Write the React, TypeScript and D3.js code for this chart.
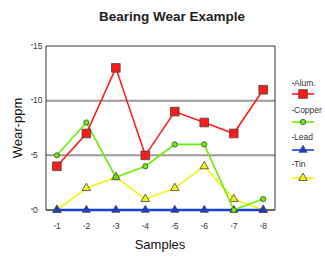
import { useRef, useEffect } from 'react'
import * as d3 from 'd3'

const samples = [1, 2, 3, 4, 5, 6, 7, 8]
const alum = [4, 7, 13, 5, 9, 8, 7, 11]
const copper = [5, 8, 3, 4, 6, 6, 0, 1]
const lead = [0, 0, 0, 0, 0, 0, 0, 0]
const tin = [0, 2, 3, 1, 2, 4, 1, 0]
const yTicks = [0, 5, 10, 15]
const seriesNames = ['Alum.', 'Copper', 'Lead', 'Tin']

const width = 325
const height = 258
const margin = { top: 46, right: 50, bottom: 48, left: 46 }

const App = () => {
  const elRef = useRef<SVGSVGElement>(null)

  useEffect(() => {
    const svg = d3.select(elRef.current as SVGSVGElement)
    svg.selectAll('*').remove()

    const x = d3
      .scaleLinear()
      .domain([0.63, 8.4])
      .range([margin.left, width - margin.right])
    const y = d3
      .scaleLinear()
      .domain([0, 15])
      .range([height - margin.bottom, margin.top])

    const font = 'Liberation Sans, Arial, sans-serif'

    // title
    svg
      .append('text')
      .attr('x', 172)
      .attr('y', 21)
      .attr('text-anchor', 'middle')
      .attr('font-family', font)
      .attr('font-weight', 'bold')
      .attr('font-size', 13.5)
      .attr('fill', '#222')
      .text('Bearing Wear Example')

    // gridlines
    svg
      .append('g')
      .selectAll('line')
      .data(yTicks.filter((d) => d > 0))
      .enter()
      .append('line')
      .attr('x1', x.range()[0])
      .attr('x2', x.range()[1])
      .attr('y1', (d) => y(d))
      .attr('y2', (d) => y(d))
      .attr('stroke', '#9a9a9a')
      .attr('stroke-width', 2)

    // frame
    const frame = svg.append('g').attr('stroke', '#333').attr('stroke-width', 1)
    frame
      .append('line')
      .attr('x1', x.range()[0])
      .attr('x2', x.range()[0])
      .attr('y1', y(15))
      .attr('y2', y(0))
    frame
      .append('line')
      .attr('x1', x.range()[1])
      .attr('x2', x.range()[1])
      .attr('y1', y(15))
      .attr('y2', y(0))
    frame
      .append('line')
      .attr('x1', x.range()[0])
      .attr('x2', x.range()[1])
      .attr('y1', y(0))
      .attr('y2', y(0))
      .attr('stroke-width', 1.5)

    // y tick labels
    const yt = svg.append('g').selectAll('g').data(yTicks).enter().append('g')
    yt.append('line')
      .attr('x1', x.range()[0] - 15)
      .attr('x2', x.range()[0] - 13)
      .attr('y1', (d) => y(d) - 1)
      .attr('y2', (d) => y(d) - 1)
      .attr('stroke', '#555')
    yt.append('text')
      .attr('x', x.range()[0] - 13)
      .attr('y', (d) => y(d) + 2.5)
      .attr('font-family', font)
      .attr('font-size', 8.5)
      .attr('fill', '#333')
      .text((d) => d)

    // x tick labels
    const xt = svg.append('g').selectAll('g').data(samples).enter().append('g')
    xt.append('line')
      .attr('x1', (d) => x(d) - 3)
      .attr('x2', (d) => x(d) - 1)
      .attr('y1', y(0) + 16)
      .attr('y2', y(0) + 16)
      .attr('stroke', '#555')
    xt.append('text')
      .attr('x', (d) => x(d) - 1)
      .attr('y', y(0) + 19)
      .attr('font-family', font)
      .attr('font-size', 8.5)
      .attr('fill', '#333')
      .text((d) => d)

    // axis titles
    svg
      .append('text')
      .attr('x', 160)
      .attr('y', 249)
      .attr('text-anchor', 'middle')
      .attr('font-family', font)
      .attr('font-size', 13)
      .attr('fill', '#111')
      .text('Samples')
    svg
      .append('text')
      .attr('transform', `translate(22, ${(y(0) + y(15)) / 2}) rotate(-90)`)
      .attr('text-anchor', 'middle')
      .attr('font-family', font)
      .attr('font-size', 13)
      .attr('fill', '#111')
      .text('Wear-ppm')

    const series = [
      { name: seriesNames[0], values: alum, color: '#ff1a1a', shape: d3.symbolSquare, size: 75 },
      { name: seriesNames[1], values: copper, color: '#66ee00', shape: d3.symbolCircle, size: 22 },
      { name: seriesNames[2], values: lead, color: '#1a3fd6', shape: d3.symbolTriangle, size: 28 },
      { name: seriesNames[3], values: tin, color: '#f2f20a', shape: d3.symbolTriangle, size: 32 },
    ]

    const line = d3
      .line<number>()
      .x((_, i) => x(samples[i]))
      .y((d) => y(d))

    const drawOrder = [3, 2, 1, 0]
    drawOrder.forEach((si) => {
      const s = series[si]
      const g = svg.append('g')
      g.append('path')
        .attr('d', line(s.values) as string)
        .attr('fill', 'none')
        .attr('stroke', s.color)
        .attr('stroke-width', si === 2 ? 2.5 : 1.6)
      g.selectAll('path.m')
        .data(s.values)
        .enter()
        .append('path')
        .attr('class', 'm')
        .attr('transform', (d, i) => `translate(${x(samples[i])},${y(d)})`)
        .attr('d', d3.symbol().type(s.shape).size(s.size)() as string)
        .attr('fill', s.color)
        .attr('stroke', '#444')
        .attr('stroke-width', 0.8)
    })

    // legend
    const lg = svg
      .append('g')
      .selectAll('g')
      .data(series)
      .enter()
      .append('g')
      .attr('transform', (_, i) => `translate(292, ${86 + i * 27})`)
    lg.append('line')
      .attr('x1', 0)
      .attr('x2', 2)
      .attr('y1', -2.5)
      .attr('y2', -2.5)
      .attr('stroke', '#555')
    lg.append('text')
      .attr('x', 2)
      .attr('y', 0)
      .attr('font-family', font)
      .attr('font-size', 8.5)
      .attr('fill', '#333')
      .text((d) => d.name)
    lg.append('line')
      .attr('x1', 0)
      .attr('x2', 22)
      .attr('y1', (_, i) => 8 + i)
      .attr('y2', (_, i) => 8 + i)
      .attr('stroke', (d) => d.color)
      .attr('stroke-width', 1.6)
    lg.append('path')
      .attr('transform', (_, i) => `translate(11,${8 + i})`)
      .attr('d', (d) => d3.symbol().type(d.shape).size(d.size)() as string)
      .attr('fill', (d) => d.color)
      .attr('stroke', '#444')
      .attr('stroke-width', 0.8)
  }, [])

  return (
    <svg
      ref={elRef}
      width={width}
      height={height}
      style={{ position: 'absolute', left: 0, top: 0, background: '#fff' }}
    />
  )
}

export default App
